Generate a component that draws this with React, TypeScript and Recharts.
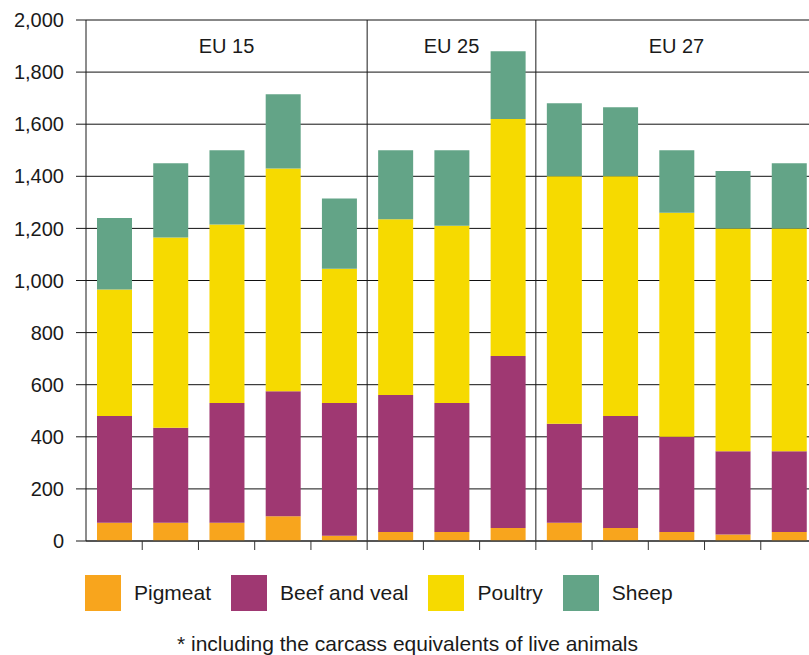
import React from "react";
import {
  BarChart,
  Bar,
  XAxis,
  YAxis,
  CartesianGrid,
  ReferenceLine,
  ReferenceArea,
} from "recharts";

// 13 bars: 5 in EU 15, 3 in EU 25, 5 in EU 27 (no year labels shown)
const CATEGORIES = ["a1", "a2", "a3", "a4", "a5", "b1", "b2", "b3", "c1", "c2", "c3", "c4", "c5"];

const PIGMEAT = [70, 70, 70, 95, 20, 35, 35, 50, 70, 50, 35, 25, 35];
const BEEF = [410, 365, 460, 480, 510, 525, 495, 660, 380, 430, 365, 320, 310];
const POULTRY = [485, 730, 685, 855, 515, 675, 680, 910, 950, 920, 860, 855, 855];
const SHEEP = [275, 285, 285, 285, 270, 265, 290, 260, 280, 265, 240, 220, 250];

const Y_TICKS = [0, 200, 400, 600, 800, 1000, 1200, 1400, 1600, 1800, 2000];

const GROUPS = [
  { label: "EU 15", first: "a1", last: "a5" },
  { label: "EU 25", first: "b1", last: "b3" },
  { label: "EU 27", first: "c1", last: "c5" },
];

const SERIES = [
  { key: "pigmeat", name: "Pigmeat", color: "#F8A51D" },
  { key: "beef", name: "Beef and veal", color: "#9F3872" },
  { key: "poultry", name: "Poultry", color: "#F6DA00" },
  { key: "sheep", name: "Sheep", color: "#63A487" },
];

const data = CATEGORIES.map((c, i) => ({
  cat: c,
  pigmeat: PIGMEAT[i],
  beef: BEEF[i],
  poultry: POULTRY[i],
  sheep: SHEEP[i],
}));

const FONT = "'Liberation Sans', Arial, Helvetica, sans-serif";
const INK = "#1a1a1a";

const CHART_W = 817;
const Y_AXIS_W = 86;
const HALF_BAND = (CHART_W - Y_AXIS_W) / CATEGORIES.length / 2;

// ticks sit on the boundaries between bars, not under them
function BoundaryTick({ x, y }: { x: number; y: number }) {
  const bx = x + HALF_BAND;
  return <line x1={bx} x2={bx} y1={y} y2={y + 9} stroke="#333" strokeWidth={1} />;
}

export default function App() {
  return (
    <div
      style={{
        position: "absolute",
        left: 0,
        top: 0,
        width: 809,
        height: 655,
        overflow: "hidden",
        background: "#fff",
        fontFamily: FONT,
      }}
    >
      <BarChart
        width={CHART_W}
        height={551}
        data={data}
        margin={{ top: 20, right: 0, bottom: 0, left: 0 }}
        barSize={35}
      >
        <CartesianGrid vertical={false} stroke="#111" strokeOpacity={1} />
        <XAxis
          dataKey="cat"
          height={10}
          tickSize={0}
          tickMargin={0}
          tickLine={false}
          interval={0}
          // eslint-disable-next-line @typescript-eslint/no-explicit-any
          tick={(props: any) => <BoundaryTick {...props} />}
          axisLine={{ stroke: "#444", strokeWidth: 1.5 }}
        />
        <YAxis
          domain={[0, 2000]}
          ticks={Y_TICKS}
          width={Y_AXIS_W}
          tickSize={10}
          tickMargin={12}
          tickFormatter={(v: number) => v.toLocaleString("en-US")}
          tick={{ fill: INK, fontSize: 20, fontFamily: FONT }}
          axisLine={{ stroke: INK }}
          tickLine={{ stroke: INK }}
          interval={0}
        />
        {SERIES.map((s) => (
          <Bar
            key={s.key}
            dataKey={s.key}
            name={s.name}
            stackId="meat"
            fill={s.color}
            isAnimationActive={false}
          />
        ))}
        {GROUPS.slice(0, 2).map((g) => (
          <ReferenceLine key={g.label} x={g.last} position="end" stroke={INK} strokeWidth={1} />
        ))}
        {GROUPS.map((g) => (
          <ReferenceArea
            key={g.label}
            x1={g.first}
            x2={g.last}
            y1={1800}
            y2={2000}
            ifOverflow="visible"
            fill="none"
            fillOpacity={0}
            strokeOpacity={0}
            label={{ value: g.label, position: "center", fill: INK, fontSize: 20, fontFamily: FONT }}
          />
        ))}
      </BarChart>

      <div
        style={{
          position: "absolute",
          left: 85,
          top: 575,
          display: "flex",
          alignItems: "center",
        }}
      >
        {SERIES.map((s) => (
          <div key={s.key} style={{ display: "flex", alignItems: "center", marginRight: 20 }}>
            <div style={{ width: 36, height: 36, background: s.color }} />
            <span style={{ marginLeft: 13, fontSize: 21, color: INK }}>{s.name}</span>
          </div>
        ))}
      </div>

      <div
        style={{
          position: "absolute",
          left: 0,
          width: 815,
          top: 632,
          textAlign: "center",
          fontSize: 21,
          color: INK,
          lineHeight: "24px",
        }}
      >
        * including the carcass equivalents of live animals
      </div>
    </div>
  );
}
